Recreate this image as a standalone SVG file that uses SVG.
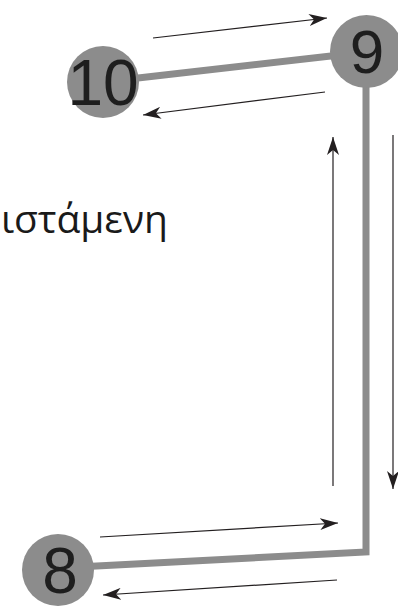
<svg xmlns="http://www.w3.org/2000/svg" width="398" height="607" viewBox="0 0 398 607">
<style>
.node{fill:#8c8c8c}
.num{font-family:"Liberation Sans",Arial,sans-serif;fill:#1e1e1e;text-anchor:middle}
.thick{fill:none;stroke:#8c8c8c;stroke-width:7;stroke-linejoin:miter}
.arr{fill:none;stroke:#231f20;stroke-width:1.2;marker-end:url(#ah)}
.lbl{font-family:"Open Sans","Noto Sans",sans-serif;font-size:39px;fill:#1a1a1a}
</style>
<defs>
<marker id="ah" viewBox="0 0 18 12" refX="18" refY="6" markerWidth="18" markerHeight="12" markerUnits="userSpaceOnUse" orient="auto">
<path d="M0,0 L18,6 L0,12 L5,6 z" fill="#231f20"/>
</marker>
</defs>
<rect width="398" height="607" fill="#fff"/>
<g id="connectors">
<path class="thick" d="M103,82 L366,52"/>
<path class="thick" d="M366,52 V552 L58,568"/>
<path class="arr" d="M153,38 L327,18"/>
<path class="arr" d="M325,92 L143,115"/>
<path class="arr" d="M333,486 V137"/>
<path class="arr" d="M393,135 V489"/>
<path class="arr" d="M100,537 L338,523"/>
<path class="arr" d="M337,580 L103,595"/>
</g>
<g id="node10">
<circle class="node" cx="103" cy="82" r="36"/>
<text class="num" x="103" y="105" font-size="64">10</text>
</g>
<g id="node9">
<circle class="node" cx="366.5" cy="51.5" r="36.5"/>
<text class="num" x="367" y="73" font-size="62">9</text>
</g>
<g id="node8">
<circle class="node" cx="58" cy="570" r="36"/>
<text class="num" x="60" y="593" font-size="64">8</text>
</g>
<g id="label">
<text class="lbl" x="168" y="233" text-anchor="end">ιστάμενη</text>
</g>
</svg>
